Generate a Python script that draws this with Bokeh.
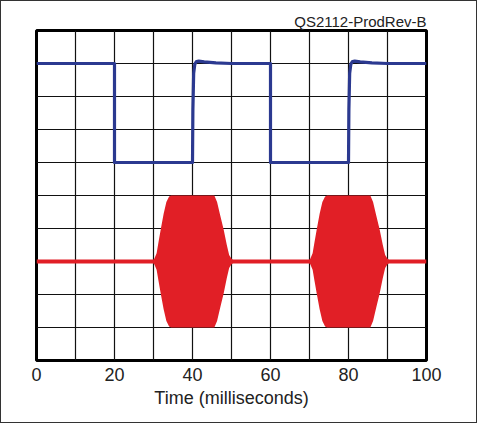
from bokeh.plotting import figure
from bokeh.models import FixedTicker, ColumnDataSource
from bokeh.embed import file_html
from bokeh.resources import INLINE

# Blue control signal (divisions, 0 = bottom of screen, 10 = top)
blue_t = [0, 20, 20, 40, 40.1, 40.3, 40.6, 41.0, 41.6, 43.0, 46.0, 50.0, 60, 60, 80, 80.1, 80.3, 80.6, 81.0, 81.6, 83.0, 86.0, 90.0, 100]
blue_v = [9.0, 9.0, 6.0, 6.0, 7.6, 8.7, 8.98, 9.06, 9.07, 9.05, 9.02, 9.0, 9.0, 6.0, 6.0, 7.6, 8.7, 8.98, 9.06, 9.07, 9.05, 9.02, 9.0, 9.0]

# Red output: baseline level and burst envelopes (amplitude in divisions)
red_base_t = [0, 100]
red_base_v = [3.0, 3.0]
burst1_t = [30.0, 30.2, 30.8, 31.3, 31.9, 32.6, 33.3, 34.0, 34.5, 45.6, 46.3, 47.1, 48.0, 48.8, 49.4, 50.0, 50.3]
burst1_a = [0.06, 0.08, 0.25, 0.6, 1.0, 1.45, 1.8, 1.97, 2.0, 2.0, 1.8, 1.4, 0.96, 0.5, 0.2, 0.08, 0.06]
burst2_t = [70.0, 70.2, 70.8, 71.3, 71.9, 72.6, 73.3, 74.0, 74.5, 85.6, 86.3, 87.1, 88.0, 88.8, 89.4, 90.0, 90.3]
burst2_a = [0.06, 0.08, 0.25, 0.6, 1.0, 1.45, 1.8, 1.97, 2.0, 2.0, 1.8, 1.4, 0.96, 0.5, 0.2, 0.08, 0.06]

x_ticks = [0, 20, 40, 60, 80, 100]
x_grid = [0, 10, 20, 30, 40, 50, 60, 70, 80, 90, 100]
y_grid = [0, 1, 2, 3, 4, 5, 6, 7, 8, 9, 10]

BLUE = "#2b3990"
RED = "#e11f26"
FONT = "Liberation Sans"

p = figure(width=477, height=423, x_range=(0, 100), y_range=(0, 10),
           output_backend="svg", toolbar_location=None,
           min_border_left=35, min_border_right=52, min_border_top=29, min_border_bottom=64,
           title="QS2112-ProdRev-B")
p.styles = {"border": "1px solid #333"}

p.title.align = "right"
p.title.text_font = FONT
p.title.text_font_size = "15px"
p.title.text_font_style = "normal"
p.title.text_color = "#222222"
p.title.standoff = 2

p.outline_line_color = "black"
p.outline_line_width = 3
p.outline_line_alpha = 1

p.yaxis.visible = False
p.xaxis.ticker = FixedTicker(ticks=x_ticks)
p.xaxis.axis_line_color = None
p.xaxis.major_tick_line_color = None
p.xaxis.minor_tick_line_color = None
p.xaxis.major_label_text_font = FONT
p.xaxis.major_label_text_font_size = "18px"
p.xaxis.major_label_text_color = "#222222"
p.xaxis.major_label_standoff = 1
p.xaxis.axis_label = "Time (milliseconds)"
p.xaxis.axis_label_text_font = FONT
p.xaxis.axis_label_text_font_size = "18px"
p.xaxis.axis_label_text_font_style = "normal"
p.xaxis.axis_label_text_color = "#222222"
p.xaxis.axis_label_standoff = 4

p.xgrid.ticker = FixedTicker(ticks=x_grid)
p.ygrid.ticker = FixedTicker(ticks=y_grid)
for g in (p.xgrid, p.ygrid):
    g.grid_line_color = "#111111"
    g.grid_line_width = 1.2
    g.grid_line_alpha = 1

# red trace
p.line(red_base_t, red_base_v, line_color=RED, line_width=4)
for bt, ba in ((burst1_t, burst1_a), (burst2_t, burst2_a)):
    src = ColumnDataSource(dict(t=bt,
                                lo=[red_base_v[0] - a for a in ba],
                                hi=[red_base_v[0] + a for a in ba]))
    p.varea(x="t", y1="lo", y2="hi", source=src, fill_color=RED)

# blue trace
p.line(blue_t, blue_v, line_color=BLUE, line_width=3.2, line_join="round")

open("out.html", "w").write(file_html(p, INLINE))
